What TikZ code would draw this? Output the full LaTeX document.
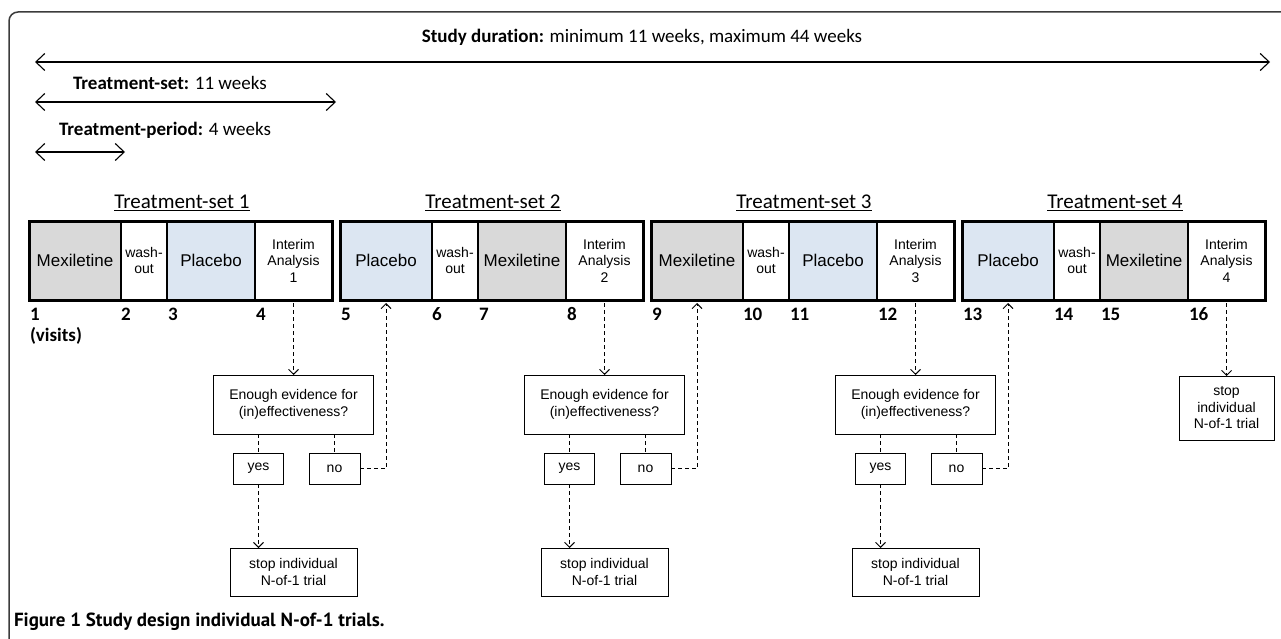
\documentclass[tikz,border=0pt]{standalone}
\usepackage{fontspec}
\setmainfont{Carlito}[Ligatures=NoCommon]
\newfontfamily\arialfont{Liberation Sans}
\newfontfamily\captionfont{PT Sans}
\usetikzlibrary{arrows.meta,positioning}
\definecolor{gray1}{RGB}{217,217,217}
\definecolor{blue1}{RGB}{220,230,242}
\definecolor{gray2}{RGB}{60,60,60}
\def\setstep{311}
\def\boxtop{221}

\begin{document}
\begin{tikzpicture}[x=1pt, y=-1pt, inner sep=0pt, outer sep=0pt,
				>={Straight Barb[length=5pt,width=10pt]},
				span/.style={line width=1.1pt,{Straight Barb[length=9pt,width=17pt]}-{Straight Barb[length=9pt,width=17pt]}},
				seg/.style={draw=black,line width=1.4pt,fill=#1,anchor=north west,minimum height=79pt,align=center,font=\arialfont\fontsize{17}{19}\selectfont},
				smalltext/.style={font=\arialfont\fontsize{14}{16.5}\selectfont},
				flowbox/.style={draw=black,line width=0.9pt,fill=white,align=center,font=\arialfont\fontsize{14}{16.5}\selectfont},
				flow/.style={dash pattern=on 4pt off 3pt,line width=0.9pt},
				visit/.style={anchor=west,font=\bfseries\fontsize{19}{21}\selectfont},
				spantext/.style={font=\fontsize{19}{22}\selectfont}]

	\useasboundingbox (0,0) rectangle (1281,639);

	% Frame
	\draw[gray2,line width=1.5pt,rounded corners=9pt] (9,645) -- (9,12) -- (1290,12);

	% Durations
	\node[spantext] (dur) at (642,37) {\textbf{Study duration:} minimum 11 weeks, maximum 44 weeks};
	\coordinate (durL) at (35,62);
	\coordinate (durR) at (1270,62);
	\draw[span] (durL) -- (durR);
	\node[spantext,anchor=west] (setlbl) at (73,83) {\textbf{Treatment-set:} 11 weeks};
	\coordinate (setL) at (35,102);
	\coordinate (setR) at (336,102);
	\draw[span] (setL) -- (setR);
	\node[spantext,anchor=west] (perlbl) at (59,130) {\textbf{Treatment-period:} 4 weeks};
	\coordinate (perL) at (35,152);
	\coordinate (perR) at (125,152);
	\draw[span] (perL) -- (perR);

	% Treatment-sets
	\foreach \i/\first/\ffill/\second/\sfill in {1/Mexiletine/gray1/Placebo/blue1, 2/Placebo/blue1/Mexiletine/gray1, 3/Mexiletine/gray1/Placebo/blue1, 4/Placebo/blue1/Mexiletine/gray1}{
		\pgfmathsetmacro\sx{29+\setstep*(\i-1)}
		\node[seg=\ffill,minimum width=92pt] (fst\i) at (\sx,\boxtop) {\first};
		\node[seg=white,minimum width=46pt,smalltext] (wsh\i) at (\sx+92,\boxtop) {wash-\\out};
		\node[seg=\sfill,minimum width=88pt] (snd\i) at (\sx+138,\boxtop) {\second};
		\node[seg=white,minimum width=77pt,smalltext] (int\i) at (\sx+226,\boxtop) {Interim\\Analysis\\\i};
		\draw[line width=3pt] (fst\i.north west) rectangle (int\i.south east);
		\node[font=\fontsize{21}{24}\selectfont] (ttl\i) at (\sx+153,203) {\underline{Treatment-set \i}};
		% visits
		\foreach \k/\dx in {0/1,1/92,2/139,3/227}{
			\pgfmathtruncatemacro\vn{4*\i-3+\k}
			\node[visit] (v\vn) at (\sx+\dx,314) {\vn};
		}
	}
	\node[visit] (vis) at (30,336) {(visits)};

	% Interim decisions
	\foreach \i in {1,2,3}{
		\pgfmathtruncatemacro\j{\i+1}
		\node[flowbox,minimum width=160pt,minimum height=59pt,below=75pt of int\i] (dec\i) {Enough evidence for\\(in)effectiveness?};
		\node[flowbox,minimum width=50pt,minimum height=31pt,anchor=north west,below right=19pt and 20pt of dec\i.south west] (yes\i) {yes};
		\node[flowbox,minimum width=51pt,minimum height=31pt,anchor=north west,below right=19pt and 15.5pt of dec\i.south] (no\i) {no};
		\node[flowbox,minimum width=127pt,minimum height=48pt,below=114pt of dec\i] (stop\i) {stop individual\\N-of-1 trial};
		\draw[flow,->,shorten <=3pt] (int\i) -- (dec\i);
		\draw[flow] (dec\i.south -| yes\i.north) -- (yes\i.north);
		\draw[flow] (dec\i.south -| no\i.north) -- (no\i.north);
		\draw[flow,->] (yes\i.south) -- (yes\i.south |- stop\i.north);
		\draw[flow,->,shorten >=3pt] (no\i.east) -| (fst\j.south);
	}
	\node[flowbox,minimum width=95pt,minimum height=64pt,below=76pt of int4] (stop4) {stop\\individual\\N-of-1 trial};
	\draw[flow,->,shorten <=3pt] (int4) -- (stop4);

	% Caption
	\node[anchor=west,font=\captionfont\bfseries\fontsize{19}{22}\selectfont] (cap) at (14,622) {Figure 1 Study design individual N-of-1 trials.};

\end{tikzpicture}
\end{document}
